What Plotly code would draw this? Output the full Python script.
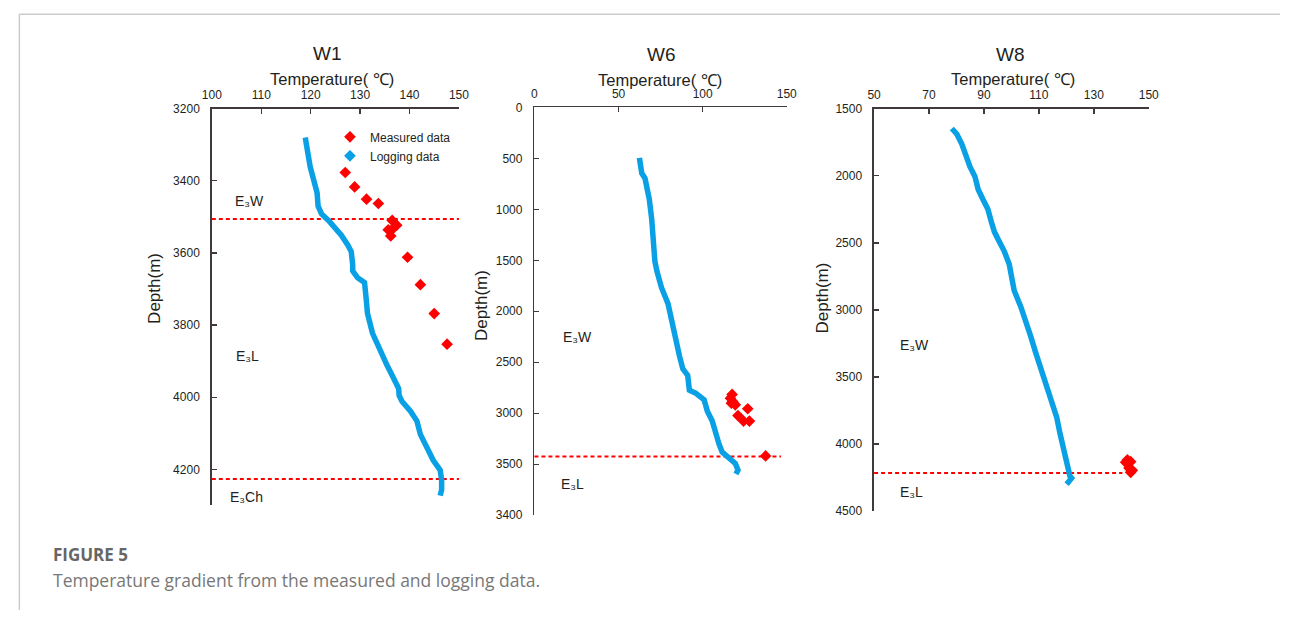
import plotly.graph_objects as go

W, H = 1290, 617


def px(x):
    return x / W


def py(y):
    return 1 - y / H


# ---------------- data ----------------
# W1
w1_log_depth = [3280, 3316, 3361, 3397, 3433, 3470, 3492, 3510, 3528, 3551, 3578, 3596, 3632, 3650,
                3669, 3682, 3723, 3768, 3822, 3868, 3913, 3940, 3976, 3995, 4012, 4039, 4066, 4103,
                4139, 4175, 4202, 4229, 4257, 4273]
w1_log_temp = [118.9, 119.3, 119.9, 120.6, 121.3, 121.5, 122.2, 123.6, 124.9, 126.2, 127.5, 128.2,
               128.5, 128.5, 129.5, 130.9, 131.2, 131.5, 132.5, 133.9, 135.5, 136.5, 137.8, 137.9,
               138.5, 140.2, 141.5, 142.2, 143.5, 144.8, 146.2, 146.5, 146.5, 146.2]
w1_meas_depth = [3377, 3417, 3451, 3463, 3510, 3523, 3532, 3536, 3553, 3612, 3688, 3768, 3853]
w1_meas_temp = [127.0, 128.9, 131.3, 133.7, 136.5, 137.4, 136.7, 135.7, 136.2, 139.6, 142.2, 145.0, 147.6]
w1_bounds = [3506, 4227]

# W6
w6_log_depth = [495, 646, 694, 902, 1094, 1350, 1510, 1606, 1766, 1925, 2085, 2245, 2341, 2437,
                2565, 2629, 2773, 2805, 2869, 2981, 3077, 3205, 3301, 3381, 3429, 3493, 3557, 3595]
w6_log_temp = [62.4, 63.8, 65.7, 68.3, 69.7, 70.6, 71.6, 72.8, 75.5, 79.4, 81.4, 83.3, 85.2, 86.2,
               88.2, 91.1, 92.1, 96.0, 100.9, 102.8, 105.7, 107.7, 109.7, 111.6, 115.5, 119.4, 121.0, 119.8]
w6_meas_depth = [2815, 2853, 2885, 2901, 2917, 2956, 3023, 3077, 3077, 3419]
w6_meas_temp = [117.5, 116.5, 117.9, 117.1, 119.4, 126.8, 121.0, 124.3, 127.8, 137.4]
w6_bounds = [3425]

# W8
w8_log_depth = [1648, 1689, 1762, 1835, 1932, 2005, 2102, 2175, 2248, 2345, 2418, 2491, 2563, 2660,
                2758, 2855, 2976, 3073, 3195, 3316, 3437, 3546, 3680, 3801, 3922, 4043, 4165, 4238,
                4252, 4299]
w8_log_temp = [78.3, 80.1, 81.9, 83.1, 84.9, 86.7, 87.9, 89.6, 91.4, 92.7, 93.8, 95.6, 97.4, 99.2,
               100.0, 101.0, 103.4, 105.2, 107.0, 108.8, 110.6, 112.4, 114.2, 116.5, 117.7, 118.9,
               120.1, 121.3, 121.9, 120.1]
w8_meas_depth = [4117, 4130, 4135, 4178, 4195, 4210]
w8_meas_temp = [142.2, 143.4, 141.6, 142.8, 144.0, 143.4]
w8_bounds = [4214]

# axes / ticks
w1_xticks = [100, 110, 120, 130, 140, 150]
w1_yticks = [3200, 3400, 3600, 3800, 4000, 4200]
w6_xticks = [0, 50, 100, 150]
w6_yticks = [0, 500, 1000, 1500, 2000, 2500, 3000, 3500, 4000]
w6_yticklabels = ["0", "500", "1000", "1500", "2000", "2500", "3000", "3500", "3400"]
w8_xticks = [50, 70, 90, 110, 130, 150]
w8_yticks = [1500, 2000, 2500, 3000, 3500, 4000, 4500]

wells = ["W1", "W6", "W8"]

# ---------------- style ----------------
RED = "#ff0000"
BLUE = "#0aa0e6"
AX = "#403a3a"
TXT = "#231f20"
FONT = "Liberation Sans, Arial, sans-serif"

fig = go.Figure()

panels = [
    dict(log_d=w1_log_depth, log_t=w1_log_temp, m_d=w1_meas_depth, m_t=w1_meas_temp, xa="x", ya="y"),
    dict(log_d=w6_log_depth, log_t=w6_log_temp, m_d=w6_meas_depth, m_t=w6_meas_temp, xa="x2", ya="y2"),
    dict(log_d=w8_log_depth, log_t=w8_log_temp, m_d=w8_meas_depth, m_t=w8_meas_temp, xa="x3", ya="y3"),
]

for i, p in enumerate(panels):
    fig.add_trace(go.Scatter(
        x=p["log_t"], y=p["log_d"], mode="lines", xaxis=p["xa"], yaxis=p["ya"],
        line=dict(color=BLUE, width=5.5), name="Logging data", showlegend=False,
    ))
    fig.add_trace(go.Scatter(
        x=p["m_t"], y=p["m_d"], mode="markers", xaxis=p["xa"], yaxis=p["ya"],
        marker=dict(symbol="diamond", size=9, color=RED), name="Measured data",
        showlegend=(i == 0),
    ))

# legend entry for the logging curve (diamond symbol as in the original)
fig.add_trace(go.Scatter(
    x=[None], y=[None], mode="markers", xaxis="x", yaxis="y",
    marker=dict(symbol="diamond", size=9, color=BLUE), name="Logging data", showlegend=True,
))

common_x = dict(side="top", showline=True, linecolor=AX, linewidth=1.6, ticks="inside",
                ticklen=5, tickwidth=1.4, tickcolor=AX, showgrid=False, zeroline=False,
                tickfont=dict(family=FONT, size=12, color=TXT), ticklabelstandoff=3)
common_y = dict(autorange=False, showline=True, linecolor=AX, linewidth=1.6, ticks="inside",
                ticklen=5, tickwidth=1.4, tickcolor=AX, showgrid=False, zeroline=False,
                tickfont=dict(family=FONT, size=12, color=TXT), ticklabelstandoff=8)

fig.update_layout(
    xaxis=dict(domain=[px(205), px(456)], range=[100, 150], tickvals=w1_xticks, anchor="y", **common_x),
    yaxis=dict(domain=[py(510), py(104)], range=[4300, 3200], tickvals=w1_yticks, anchor="x", **common_y),
    xaxis2=dict(domain=[px(532.7), px(789)], range=[0, 150], tickvals=w6_xticks, anchor="y2", **common_x),
    yaxis2=dict(domain=[py(520), py(102.7)], range=[4000, 0], tickvals=w6_yticks,
                ticktext=w6_yticklabels, anchor="x2", **common_y),
    xaxis3=dict(domain=[px(877.7), px(1156.7)], range=[50, 150], tickvals=w8_xticks, anchor="y3", **common_x),
    yaxis3=dict(domain=[py(516), py(104)], range=[4500, 1500], tickvals=w8_yticks, anchor="x3", **common_y),
)

# formation boundaries (red dotted)
bounds = [(w1_bounds, "x", "y", 1.0), (w6_bounds, "x2", "y2", 0.977), (w8_bounds, "x3", "y3", 0.904)]
for blist, xa, ya, xend in bounds:
    for b in blist:
        fig.add_shape(type="line", xref=f"{xa} domain", yref=ya, x0=0.0, x1=xend, y0=b, y1=b,
                      line=dict(color=RED, width=2, dash="4px,3px"), layer="below")

annotations = []
# panel titles and axis titles
titles = [(322.5, 47.3, 326.7, 73.3, 146.7, 288), (661.7, 49, 660, 75, 478.3, 305),
          (1016.7, 49, 1018.3, 73.3, 825, 298)]
for name, (tx, ty, ax_, ay, dx, dy) in zip(wells, titles):
    annotations.append(dict(text=name, x=px(tx), y=py(ty), xref="paper", yref="paper",
                            xanchor="center", yanchor="middle",
                            showarrow=False, font=dict(family=FONT, size=19, color=TXT)))
    annotations.append(dict(text="Temperature( \u2103)", x=px(ax_), y=py(ay), xref="paper", yref="paper",
                            xanchor="center", yanchor="middle",
                            showarrow=False, font=dict(family=FONT, size=16.5, color=TXT)))
    annotations.append(dict(text="Depth(m)", x=px(dx), y=py(dy), xref="paper", yref="paper",
                            xanchor="center", yanchor="middle",
                            showarrow=False, textangle=-90, font=dict(family=FONT, size=17, color=TXT)))

# formation labels
forms = [("E\u2083W", 226.7, 199), ("E\u2083L", 228, 356.7), ("E\u2083Ch", 221.7, 501.7),
         ("E\u2083W", 560, 338), ("E\u2083L", 558, 488),
         ("E\u2083W", 901.7, 346), ("E\u2083L", 901.7, 496.7)]
for t, x, y in forms:
    annotations.append(dict(text=t, x=px(x), y=py(y), xref="paper", yref="paper", xanchor="left",
                            yanchor="middle",
                            showarrow=False, font=dict(family=FONT, size=14, color=TXT)))

# caption
annotations.append(dict(text="FIGURE 5", x=px(42), y=py(560), xref="paper", yref="paper",
                        xanchor="left", yanchor="middle", showarrow=False,
                        font=dict(family="Open Sans, sans-serif", size=17, color="#666666", weight=700)))
annotations.append(dict(text="Temperature gradient from the measured and logging data.", x=px(42),
                        y=py(586), xref="paper", yref="paper", xanchor="left", yanchor="middle",
                        showarrow=False,
                        font=dict(family="Open Sans, sans-serif", size=17.5, color="#777777")))

# frame lines
shapes_frame = [
    dict(type="line", xref="paper", yref="paper", x0=px(9.5), x1=1, y0=py(7.5), y1=py(7.5),
         line=dict(color="#cccccc", width=1.5)),
    dict(type="line", xref="paper", yref="paper", x0=px(9.5), x1=px(9.5), y0=py(7.5), y1=0,
         line=dict(color="#cccccc", width=1.5)),
]
for s in shapes_frame:
    fig.add_shape(**s)

fig.update_layout(
    width=W, height=H, margin=dict(l=0, r=0, t=0, b=0),
    paper_bgcolor="white", plot_bgcolor="white",
    annotations=annotations,
    hovermode=False,
    showlegend=True,
    legend=dict(x=px(325), y=py(118), xanchor="left", yanchor="top", bgcolor="rgba(0,0,0,0)",
                font=dict(family=FONT, size=12, color=TXT), tracegroupgap=0, itemwidth=30),
)

fig.write_html(
    "out.html",
    config={"displayModeBar": False, "staticPlot": True},
    post_script="document.body.style.margin='0px';document.body.style.overflow='hidden';",
)
